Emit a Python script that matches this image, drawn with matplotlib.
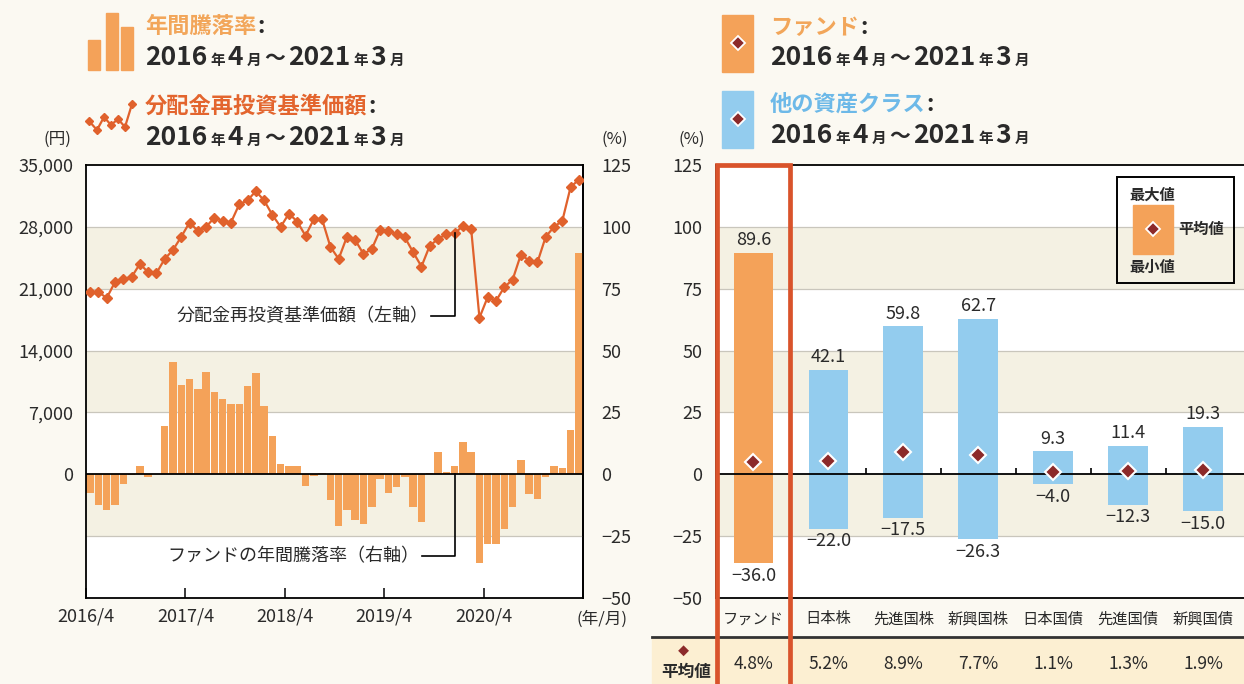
import matplotlib
matplotlib.use("Agg")
import matplotlib.pyplot as plt
from matplotlib.patches import Rectangle
from matplotlib.lines import Line2D
from matplotlib.transforms import blended_transform_factory
import numpy as np

plt.rcParams['font.family'] = ['Noto Sans CJK JP', 'DejaVu Sans']

# monthly data, 2016/4 - 2021/3
nav = [20630, 20630, 19950, 21750, 22120, 22310, 23810, 22870, 22760, 24370,
       25380, 26880, 28490, 27550, 28000, 29050, 28670, 28490, 30550, 30990,
       32040, 30990, 29350, 28000, 29500, 28600, 26990, 28860, 28860, 25750,
       24370, 26880, 26500, 24930, 25490, 27630, 27550, 27180, 26800, 25120,
       23510, 25870, 26620, 27180, 27250, 28110, 27740, 17710, 20070, 19620,
       21190, 22010, 24860, 24180, 23990, 26880, 28000, 28670, 32490, 33350]
annual_return = [-7.6, -12.6, -14.3, -12.6, -3.8, -0.2, 3.2, -1.1, 0.1, 19.6,
                 45.5, 36.1, 38.4, 34.3, 41.5, 33.4, 30.3, 28.6, 28.6, 35.8,
                 40.8, 27.7, 15.5, 4.1, 3.4, 3.2, -4.7, -0.8, 0.7, -10.3,
                 -20.7, -14.5, -18.4, -20.0, -13.2, -1.8, -7.6, -5.1, -1.1, -13.2,
                 -19.1, 0.5, 9.0, 0.8, 3.2, 13.1, 9.0, -36.0, -28.1, -28.1,
                 -22.0, -13.2, 5.9, -7.8, -9.9, -1.1, 3.2, 2.7, 18.1, 89.6]
year_ticks = [0, 12, 24, 36, 48]
year_labels = ['2016/4', '2017/4', '2018/4', '2019/4', '2020/4']

asset_classes = ['ファンド', '日本株', '先進国株', '新興国株', '日本国債', '先進国債', '新興国債']
max_ret = [89.6, 42.1, 59.8, 62.7, 9.3, 11.4, 19.3]
min_ret = [-36.0, -22.0, -17.5, -26.3, -4.0, -12.3, -15.0]
avg_ret = [4.8, 5.2, 8.9, 7.7, 1.1, 1.3, 1.9]

W, H = 1244, 684
ORANGE = '#F4A259'
LINE = '#E0612C'
BLUE = '#93CCEE'
DIAMOND = '#8C2A2A'
BEIGE = '#F4F1E3'
BG = '#FBF9F2'
RED = '#D9532B'
DARK = '#2A2A2A'
GRID = '#C9C6BC'
YEN_PER_PCT = 280

fig = plt.figure(figsize=(W / 100, H / 100), dpi=100, facecolor=BG)


def fx(px):
    return px / W


def fy(py):
    return 1 - py / H


def bands(a, scale):
    for lo, hi in [(-25, 0), (25, 50), (75, 100)]:
        a.axhspan(lo * scale, hi * scale, color=BEIGE, lw=0, zorder=0)
    for g in [-25, 25, 50, 75, 100]:
        a.axhline(g * scale, color=GRID, lw=0.9, zorder=0.5)


# ---- left chart: NAV + annual return ----
ax = fig.add_axes([fx(86), fy(598), (583 - 86) / W, (598 - 165) / H])
ax.set_facecolor('white')
bands(ax, YEN_PER_PCT)
x = np.arange(len(nav)) + 0.5
ax.bar(x, np.array(annual_return) * YEN_PER_PCT, width=0.9, color=ORANGE, zorder=2)
ax.axhline(0, color='black', lw=1.3, zorder=3)
ax.plot(x, nav, color=LINE, lw=1.6, marker='D', ms=4.8, zorder=4)
ax.set_xlim(0, 60)
ax.set_ylim(-50 * YEN_PER_PCT, 125 * YEN_PER_PCT)
ax.set_yticks(range(0, 35001, 7000))
ax.set_yticklabels([f'{v:,}' for v in range(0, 35001, 7000)])
ax.set_xticks(year_ticks, year_labels)
ax.tick_params(axis='x', direction='in', length=7, width=1.3, pad=7, labelsize=13, colors=DARK)
ax.tick_params(axis='y', length=0, pad=9, labelsize=13, colors=DARK)
for s in ax.spines.values():
    s.set_linewidth(1.3)
sec = ax.secondary_yaxis('right', functions=(lambda y: y / YEN_PER_PCT, lambda p: p * YEN_PER_PCT))
sec.set_yticks(range(-50, 126, 25))
sec.tick_params(length=0, pad=13, labelsize=13, colors=DARK)
sec.spines['right'].set_linewidth(1.3)

# leader notes
note_y1 = 17900
ax.text(41.4, note_y1, '分配金再投資基準価額（左軸）', ha='right', va='center', fontsize=13, color=DARK, zorder=5)
ax.plot([41.7, 44.5, 44.5], [note_y1, note_y1, nav[44]], color='black', lw=1.2, zorder=5)
note_y2 = -33 * YEN_PER_PCT
ax.text(40.3, note_y2, 'ファンドの年間騰落率（右軸）', ha='right', va='center', fontsize=13, color=DARK, zorder=5)
ax.plot([40.6, 44.5, 44.5], [note_y2, note_y2, 0], color='black', lw=1.2, zorder=5)

fig.text(fx(57), fy(139), '(円)', ha='center', va='center', fontsize=12, color=DARK)
fig.text(fx(615), fy(139), '(%)', ha='center', va='center', fontsize=12, color=DARK)
fig.text(fx(602), fy(619), '(年/月)', ha='center', va='center', fontsize=12, color=DARK)

# ---- right chart: range per asset class ----
axr = fig.add_axes([fx(716), fy(598), (1248 - 716) / W, (598 - 165) / H])
axr.set_facecolor('white')
bands(axr, 1)
xc = np.arange(len(asset_classes))
axr.bar(xc, np.subtract(max_ret, min_ret), bottom=min_ret, width=0.53,
        color=[ORANGE] + [BLUE] * (len(xc) - 1), zorder=2)
axr.axhline(0, color='black', lw=1.3, zorder=3)
axr.vlines(np.arange(1.5, len(xc) - 1), 0, 2.6, color='black', lw=1.2, zorder=3)
axr.plot(xc, avg_ret, 'D', ms=8, color=DIAMOND, mec='white', mew=1.5, zorder=5)
for xi, hi, lo in zip(xc, max_ret, min_ret):
    axr.text(xi, hi + 1.5, f'{hi:.1f}', ha='center', va='bottom', fontsize=13, color=DARK)
    axr.text(xi, lo - 1.5, f'{lo:.1f}'.replace('-', '−'), ha='center', va='top', fontsize=13, color=DARK)
axr.set_xlim(-0.5, 6.6)
axr.set_ylim(-50, 125)
axr.set_yticks(range(-50, 126, 25))
axr.set_xticks(xc, asset_classes)
axr.tick_params(axis='y', length=0, pad=10, labelsize=13, colors=DARK)
axr.tick_params(axis='x', length=0, pad=9, labelsize=11, colors=DARK)
axr.spines['right'].set_visible(False)
for s in ['left', 'top', 'bottom']:
    axr.spines[s].set_linewidth(1.3)
fig.text(fx(692), fy(139), '(%)', ha='center', va='center', fontsize=12, color=DARK)

# key inside right chart
fig.add_artist(Rectangle((fx(1117), fy(283)), (1234 - 1117) / W, (283 - 177) / H,
                         transform=fig.transFigure, fill=False, ec='black', lw=1.4, zorder=6))
fig.add_artist(Rectangle((fx(1133), fy(254)), 40 / W, 49 / H,
                         transform=fig.transFigure, color=ORANGE, zorder=6))
fig.add_artist(Line2D([fx(1153)], [fy(229)], transform=fig.transFigure, marker='D', ms=7,
                      color=DIAMOND, mec='white', mew=1.3, zorder=7))
for tx, ty, s in [(1152, 195, '最大値'), (1201, 229, '平均値'), (1152, 267, '最小値')]:
    fig.text(fx(tx), fy(ty), s, ha='center', va='center', fontsize=11, fontweight='bold', color=DARK, zorder=7)

# average row under the chart
fig.add_artist(Rectangle((fx(652), 0), (W - 652) / W, (H - 637) / H,
                         transform=fig.transFigure, color='#FCEFD2', zorder=1))
fig.add_artist(Line2D([fx(652), 1], [fy(637), fy(637)], transform=fig.transFigure,
                      color='#333333', lw=2, zorder=2))
fig.text(fx(683), fy(651), '◆', ha='center', va='center', fontsize=8, color=DIAMOND, zorder=3)
fig.text(fx(686), fy(672), '平均値', ha='center', va='center', fontsize=12, fontweight='bold', color=DARK, zorder=3)
row = blended_transform_factory(axr.transData, fig.transFigure)
for xi, v in zip(xc, avg_ret):
    fig.text(xi, fy(664), f'{v:.1f}%', transform=row, ha='center', va='center', fontsize=12.5, color=DARK, zorder=3)

# red frame round the fund column
fig.add_artist(Line2D([fx(716.5), fx(716.5), fx(790.5), fx(790.5)], [0, fy(165), fy(165), 0],
                      transform=fig.transFigure, color=RED, lw=3.4, solid_joinstyle='miter', zorder=8))

# ---- header legends ----
renderer = fig.canvas.get_renderer()


def rich(px, py, parts, gap=3):
    for s, size, color in parts:
        t = fig.text(fx(px), fy(py), s, fontsize=size, color=color, fontweight='bold',
                     ha='left', va='baseline')
        px += t.get_window_extent(renderer).width + gap


def period(px, py):
    big, small = 19, 10.5
    rich(px, py, [('2016', big, DARK), ('年', small, DARK), ('4', big, DARK), ('月', small, DARK),
                  ('～', 15, DARK), ('2021', big, DARK), ('年', small, DARK), ('3', big, DARK),
                  ('月', small, DARK)])


for x0, top in [(88, 40), (106, 13), (121, 27)]:
    fig.add_artist(Rectangle((fx(x0), fy(70)), 12 / W, (70 - top) / H,
                             transform=fig.transFigure, color=ORANGE))
fig.add_artist(Line2D([fx(v) for v in [89, 97, 104, 111, 118, 125, 132]],
                      [fy(v) for v in [121, 130, 117, 125, 119, 127, 104]],
                      transform=fig.transFigure, color=LINE, lw=1.6, marker='D', ms=4.5))
rich(145, 33, [('年間騰落率', 16, '#F2A65A'), (':', 16, DARK)], gap=1)
period(145, 65)
rich(145, 113, [('分配金再投資基準価額', 16, '#E3652E'), (':', 16, DARK)], gap=1)
period(145, 145)

for top, color in [(15, ORANGE), (91, BLUE)]:
    fig.add_artist(Rectangle((fx(722), fy(top + 57)), 31 / W, 57 / H,
                             transform=fig.transFigure, color=color))
    fig.add_artist(Line2D([fx(737.5)], [fy(top + 28)], transform=fig.transFigure, marker='D', ms=7,
                          color=DIAMOND, mec='white', mew=1.3))
rich(770, 34, [('ファンド', 16, '#F2A65A'), (':', 16, DARK)], gap=1)
period(770, 65)
rich(770, 111, [('他の資産クラス', 16, '#6DB9E8'), (':', 16, DARK)], gap=1)
period(770, 143)

fig.savefig('out.png', dpi=100, facecolor=BG)
